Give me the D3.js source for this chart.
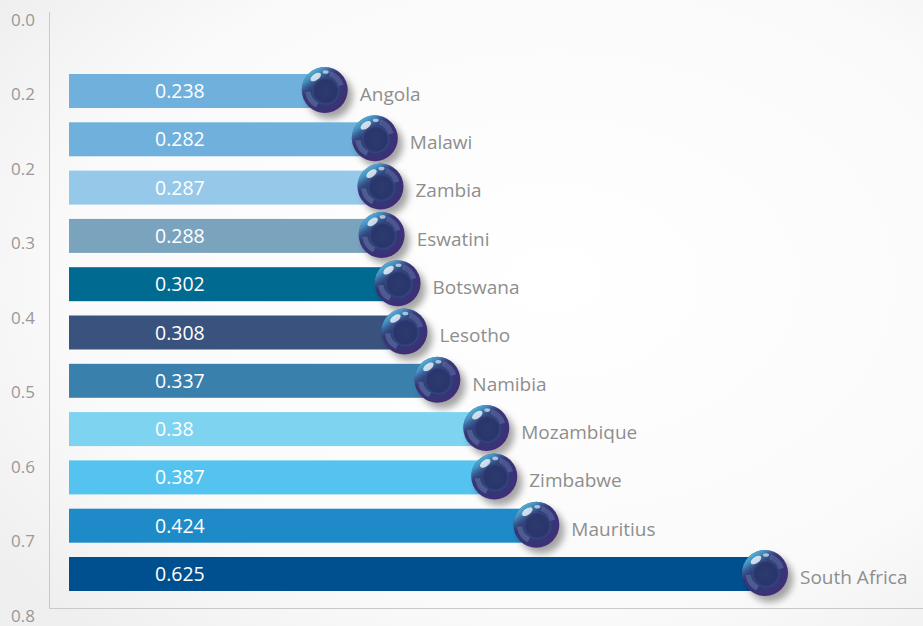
<!DOCTYPE html>
<html>
<head>
<meta charset="utf-8">
<script src="https://cdn.jsdelivr.net/npm/d3@7"></script>
<style>
  html, body { margin: 0; padding: 0; background: #ffffff; }
  svg { display: block; font-family: "Open Sans", "Noto Sans", sans-serif; }
</style>
</head>
<body>
<svg id="chart" width="923" height="626"></svg>
<script>
// ---- data ----
const countries = ["Angola", "Malawi", "Zambia", "Eswatini", "Botswana", "Lesotho",
  "Namibia", "Mozambique", "Zimbabwe", "Mauritius", "South Africa"];
const values = [0.238, 0.282, 0.287, 0.288, 0.302, 0.308, 0.337, 0.38, 0.387, 0.424, 0.625];
const valueLabels = ["0.238", "0.282", "0.287", "0.288", "0.302", "0.308", "0.337", "0.38", "0.387", "0.424", "0.625"];
const barColors = ["#6fb0dc", "#6fb0dc", "#96c9e9", "#7aa3bd", "#006a91", "#3a527e",
  "#3a80ad", "#7dd3f0", "#55c3ef", "#1e8bc8", "#004f8e"];
const axisTickLabels = ["0.0", "0.2", "0.2", "0.3", "0.4", "0.5", "0.6", "0.7", "0.8"];

const W = 923, H = 626;
const svg = d3.select("#chart");
const defs = svg.append("defs");

// background
const bg = defs.append("radialGradient").attr("id", "bg").attr("cx", "60%").attr("cy", "45%").attr("r", "75%");
bg.append("stop").attr("offset", "0%").attr("stop-color", "#ffffff");
bg.append("stop").attr("offset", "70%").attr("stop-color", "#fafafa");
bg.append("stop").attr("offset", "100%").attr("stop-color", "#efefef");
svg.append("rect").attr("width", W).attr("height", H).attr("fill", "url(#bg)");

// ball gradients
const ballG = defs.append("radialGradient").attr("id", "ballBase")
  .attr("cx", "45%").attr("cy", "45%").attr("r", "60%");
ballG.append("stop").attr("offset", "0%").attr("stop-color", "#2f3d72");
ballG.append("stop").attr("offset", "55%").attr("stop-color", "#2f3b72");
ballG.append("stop").attr("offset", "82%").attr("stop-color", "#3a3278");
ballG.append("stop").attr("offset", "100%").attr("stop-color", "#4a2876");

const rimG = defs.append("linearGradient").attr("id", "ballRim")
  .attr("x1", "10%").attr("y1", "0%").attr("x2", "60%").attr("y2", "70%");
rimG.append("stop").attr("offset", "0%").attr("stop-color", "#70e4f2").attr("stop-opacity", 1);
rimG.append("stop").attr("offset", "30%").attr("stop-color", "#4ab0dc").attr("stop-opacity", 0.7);
rimG.append("stop").attr("offset", "58%").attr("stop-color", "#3a5a9a").attr("stop-opacity", 0);

const coreG = defs.append("radialGradient").attr("id", "ballCore")
  .attr("cx", "50%").attr("cy", "50%").attr("r", "50%");
coreG.append("stop").attr("offset", "0%").attr("stop-color", "#2c3a6e");
coreG.append("stop").attr("offset", "80%").attr("stop-color", "#29356a");
coreG.append("stop").attr("offset", "100%").attr("stop-color", "#384a86");

const shadowF = defs.append("filter").attr("id", "shadow")
  .attr("x", "-50%").attr("y", "-50%").attr("width", "200%").attr("height", "200%");
shadowF.append("feGaussianBlur").attr("stdDeviation", 3.5);

// scales
const x = d3.scaleLinear().domain([0, 0.625]).range([54, 765]);
const y = d3.scaleBand().domain(countries).range([66.85, 598.15])
  .paddingInner(0.296).paddingOuter(0.148);
const yTicks = d3.scalePoint().domain(d3.range(axisTickLabels.length)).range([20, 616]);

const barLeft = 69;

// axis lines
svg.append("line").attr("x1", 49.5).attr("x2", 49.5).attr("y1", 12).attr("y2", 608.5)
  .attr("stroke", "#c9c9c9").attr("stroke-width", 1);
svg.append("line").attr("x1", 49.5).attr("x2", W).attr("y1", 608.5).attr("y2", 608.5)
  .attr("stroke", "#c9c9c9").attr("stroke-width", 1);

// left axis tick labels
const yAxis = d3.axisLeft(yTicks).tickSize(0).tickPadding(0)
  .tickFormat(i => axisTickLabels[i]);
const ga = svg.append("g").attr("transform", "translate(35,0)").call(yAxis);
ga.select(".domain").remove();
ga.selectAll("text").attr("fill", "#999999").attr("font-size", 17)
  .attr("font-family", "'Open Sans', sans-serif");

// bars
const rows = svg.append("g").selectAll("g.row")
  .data(countries.map((c, i) => ({ c, v: values[i], lab: valueLabels[i], col: barColors[i] })))
  .join("g").attr("class", "row");

rows.append("rect")
  .attr("x", barLeft)
  .attr("y", d => y(d.c))
  .attr("width", d => x(d.v) - barLeft)
  .attr("height", y.bandwidth())
  .attr("fill", d => d.col);

rows.append("text")
  .attr("x", 155)
  .attr("y", d => y(d.c) + y.bandwidth() / 2)
  .attr("dy", "0.36em")
  .attr("fill", "#ffffff")
  .attr("font-size", 19.5)
  .text(d => d.lab);

// balls
const R = 23;
const balls = rows.append("g")
  .attr("transform", d => `translate(${x(d.v)},${y(d.c) + y.bandwidth() / 2 - 1})`);
balls.append("circle").attr("cx", 5).attr("cy", 6).attr("r", R)
  .attr("fill", "#000").attr("opacity", 0.35).attr("filter", "url(#shadow)");
balls.append("circle").attr("r", R).attr("fill", "url(#ballBase)");
balls.append("circle").attr("r", R).attr("fill", "url(#ballRim)");
balls.append("circle").attr("r", R * 0.6).attr("cx", 1).attr("cy", 1)
  .attr("fill", "url(#ballCore)").attr("opacity", 0.9);
balls.append("path")
  .attr("d", d3.arc().innerRadius(R * 0.62).outerRadius(R * 0.85).startAngle(0.3).endAngle(1.3)())
  .attr("fill", "#7b8cc0").attr("opacity", 0.35);
balls.append("path")
  .attr("d", d3.arc().innerRadius(R * 0.62).outerRadius(R * 0.85).startAngle(3.6).endAngle(4.6)())
  .attr("fill", "#8ab0d8").attr("opacity", 0.3);
balls.append("ellipse").attr("cx", -9).attr("cy", -13).attr("rx", 6).attr("ry", 3.2)
  .attr("transform", "rotate(-35,-9,-13)")
  .attr("fill", "#ffffff").attr("opacity", 0.75);
balls.append("ellipse").attr("cx", 1).attr("cy", -18).attr("rx", 3).attr("ry", 1.8)
  .attr("fill", "#ffffff").attr("opacity", 0.6);

// country labels
rows.append("text")
  .attr("x", d => x(d.v) + 35)
  .attr("y", d => y(d.c) + y.bandwidth() / 2 + 3)
  .attr("dy", "0.36em")
  .attr("fill", "#8e8e8e")
  .attr("font-size", 19)
  .text(d => d.c);
</script>
</body>
</html>
